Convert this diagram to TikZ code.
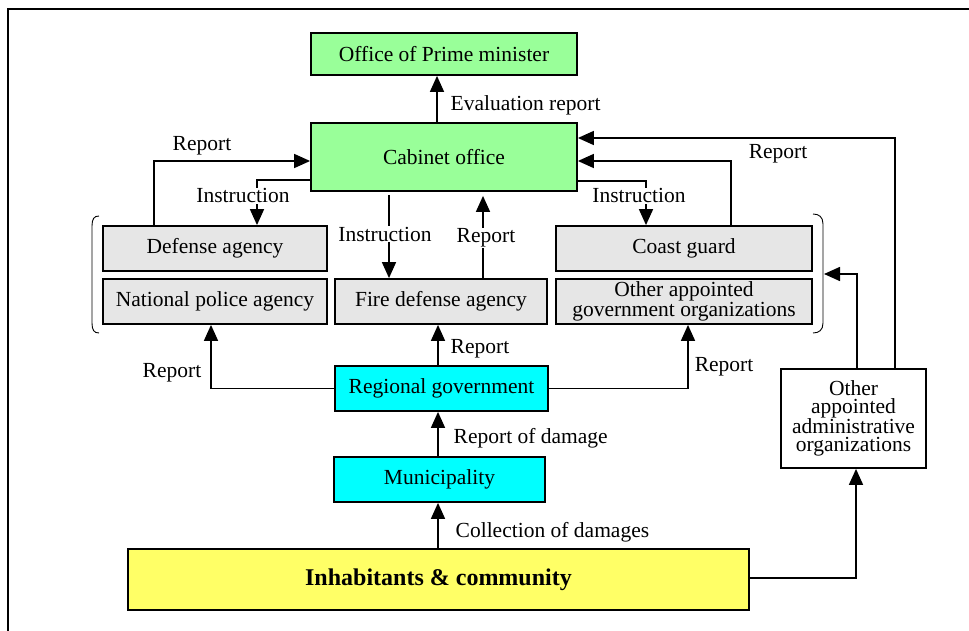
\documentclass[tikz,border=0pt]{standalone}
\usepackage{fontspec}
\setmainfont{Liberation Serif}
\usetikzlibrary{arrows.meta}

\definecolor{cgreen}{RGB}{153,255,153}
\definecolor{ccyan}{RGB}{0,255,255}
\definecolor{cyellow}{RGB}{255,255,102}
\definecolor{cgray}{RGB}{230,230,230}

\begin{document}
\begin{tikzpicture}[x=1pt,y=-1pt,
  box/.style={draw, line width=1.8pt, inner sep=0pt, align=center,
    font=\fontsize{21.5}{24}\selectfont},
  gbox/.style={box, fill=cgray, minimum height=45pt},
  arr/.style={line width=1.6pt, -{Triangle[length=16pt,width=14pt]}},
  lbl/.style={font=\fontsize{21.5}{24}\selectfont, inner sep=0.5pt, anchor=base},
  wl/.style={fill=white},
  brk/.style={line width=0.9pt}]

\useasboundingbox (0,0) rectangle (969,631);

% outer frame
\draw[line width=2pt] (8,700) -- (8,9) -- (1000,9);

% boxes
\node[box, fill=cgreen, minimum width=266pt, minimum height=42pt] (pm) at (444,54) {Office of Prime minister};
\node[box, fill=cgreen, minimum width=266pt, minimum height=68pt] (cab) at (444,157) {Cabinet office};
\node[gbox, minimum width=224pt] (def) at (215,248.5) {Defense agency};
\node[gbox, minimum width=224pt] (pol) at (215,301.5) {National police agency};
\node[gbox, minimum width=212pt] (fire) at (441,301.5) {Fire defense agency};
\node[gbox, minimum width=256pt] (cg) at (684,248.5) {Coast guard};
\node[gbox, minimum width=256pt, font=\fontsize{21.5}{16}\selectfont] (ogo) at (684,301.5) {Other appointed\\government organizations};
\node[box, fill=ccyan, minimum width=213pt, minimum height=45pt] (reg) at (441.5,388.5) {Regional government};
\node[box, fill=ccyan, minimum width=211pt, minimum height=45pt] (mun) at (439.5,479.5) {Municipality};
\node[box, fill=cyellow, minimum width=621pt, minimum height=61pt,
  font=\bfseries\fontsize{24}{28}\selectfont] (inh) at (438.5,579.5) {Inhabitants \& community};
\node[box, fill=white, minimum width=145pt, minimum height=99pt,
  font=\fontsize{21.5}{17.5}\selectfont] (adm) at (853.5,418.5) {Other\\appointed\\administrative\\organizations};

% brackets grouping the national agencies
\draw[brk] (99,216) .. controls (94,216) and (92,219) .. (92,226) -- (92,323) .. controls (92,330) and (94,333) .. (99,333);
\draw[brk] (813,214) .. controls (819,214) and (823,217) .. (823,224) -- (823,323) .. controls (823,330) and (819,333) .. (813,333);
\coordinate (rb) at (824,274);

% connectors
\draw[arr] ([xshift=-7pt]cab.north) -- ([xshift=-7pt]pm.south);
\draw[arr] ([xshift=-61pt]def.north) |- ([yshift=-4pt]cab.west);
\draw[arr] ([yshift=-23pt]cab.west) -| ([xshift=42pt]def.north);
\draw[arr] ([xshift=-55pt,yshift=-3pt]cab.south) -- ([xshift=-52pt]fire.north);
\draw[arr] ([xshift=42pt]fire.north) -- ([xshift=39pt,yshift=-4pt]cab.south);
\draw[arr] ([yshift=-24pt]cab.east) -| ([xshift=-38pt]cg.north);
\draw[arr] ([xshift=47pt]cg.north) |- ([yshift=-4pt]cab.east);
\draw[arr] ([xshift=41.5pt]adm.north) |- ([yshift=19pt]cab.east);
\draw[arr] ([xshift=3.5pt]adm.north) |- (rb);
\draw[arr] ([xshift=-3.5pt]reg.north) -- ([xshift=-3pt]fire.south);
\draw[arr] (reg.west) -| ([xshift=-4pt]pol.south);
\draw[arr] (reg.east) -| ([xshift=4pt]ogo.south);
\draw[arr] ([xshift=-1.5pt]mun.north) -- ([xshift=-3.5pt]reg.south);
\draw[arr] ([xshift=-0.5pt]inh.north) -- ([xshift=-1.5pt]mun.south);
\draw[arr] ([yshift=1.5pt]inh.east) -| ([xshift=2.5pt]adm.south);

% connector labels
\node[lbl] (l1) at (202,151) {Report};
\node[lbl, anchor=base west] (l2) at (450,111) {Evaluation report};
\node[lbl, wl] (l3) at (243,203) {Instruction};
\node[lbl, wl] (l4) at (385,241) {Instruction};
\node[lbl, wl] (l5) at (486,243) {Report};
\node[lbl, wl] (l6) at (639,203) {Instruction};
\node[lbl] (l7) at (778,159) {Report};
\node[lbl] (l8) at (480,353) {Report};
\node[lbl] (l9) at (172,377) {Report};
\node[lbl] (l10) at (724,371) {Report};
\node[lbl, anchor=base west] (l11) at (453,443) {Report of damage};
\node[lbl, anchor=base west] (l12) at (455,537) {Collection of damages};

\end{tikzpicture}
\end{document}
